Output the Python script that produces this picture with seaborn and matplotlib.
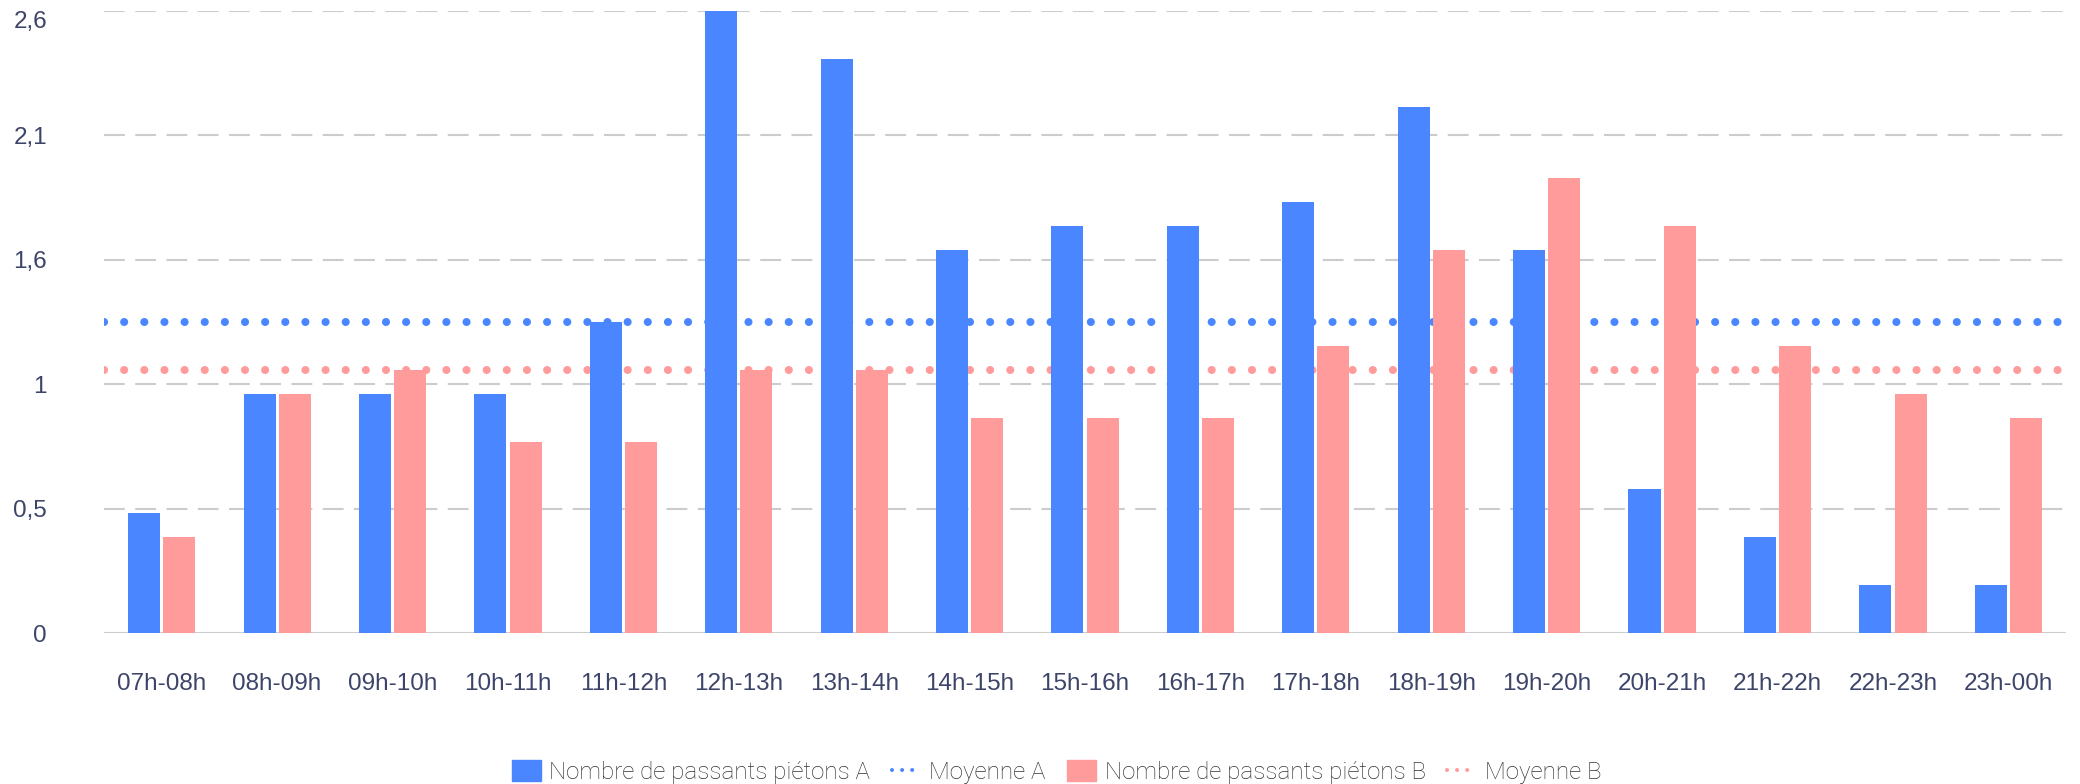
import pandas as pd
import matplotlib
matplotlib.use('Agg')
import matplotlib.pyplot as plt
from matplotlib.lines import Line2D
from matplotlib.patches import Patch
import seaborn as sns

# Tranches horaires et valeurs
tranches = ['07h-08h', '08h-09h', '09h-10h', '10h-11h', '11h-12h', '12h-13h',
            '13h-14h', '14h-15h', '15h-16h', '16h-17h', '17h-18h', '18h-19h',
            '19h-20h', '20h-21h', '21h-22h', '22h-23h', '23h-00h']
passants_a = [0.5, 1.0, 1.0, 1.0, 1.3, 2.6, 2.4, 1.6, 1.7, 1.7, 1.8, 2.2,
              1.6, 0.6, 0.4, 0.2, 0.2]
passants_b = [0.4, 1.0, 1.1, 0.8, 0.8, 1.1, 1.1, 0.9, 0.9, 0.9, 1.2, 1.6,
              1.9, 1.7, 1.2, 1.0, 0.9]
moyenne_a = 1.3
moyenne_b = 1.1

label_a = 'Nombre de passants piétons A'
label_b = 'Nombre de passants piétons B'
y_ticks = [0, 0.52, 1.04, 1.56, 2.08, 2.6]
y_labels = ['0', '0,5', '1', '1,6', '2,1', '2,6']

BLUE = '#4a86ff'
PINK = '#ff9b9b'
TEXT = '#3d4469'
GRID = '#cccccc'

df = pd.DataFrame({'tranche': tranches, label_a: passants_a, label_b: passants_b})
long = df.melt(id_vars='tranche', var_name='serie', value_name='valeur')

sns.set_theme(style='white')
plt.rcParams['font.family'] = ['Roboto', 'DejaVu Sans']

fig = plt.figure(figsize=(20.8, 7.84), dpi=100)
ax = fig.add_axes([0.05, 0.1926, 0.9433, 0.7934])

# grille
for t in y_ticks[1:]:
    ax.axhline(t, color=GRID, lw=1.5, dashes=(10, 5), zorder=0)
ax.axhline(0, color=GRID, lw=1.5, zorder=0)

# moyennes (derriere les barres)
ax.axhline(moyenne_a, color=BLUE, lw=5.8, dashes=(0.01, 2.49),
           dash_capstyle='round', zorder=1)
ax.axhline(moyenne_b, color=PINK, lw=5.8, dashes=(0.01, 2.49),
           dash_capstyle='round', zorder=1)

sns.barplot(data=long, x='tranche', y='valeur', hue='serie',
            palette=[BLUE, PINK], width=0.61, gap=0.09, saturation=1,
            linewidth=0, legend=False, ax=ax, zorder=2)

ax.set_xlim(-0.5, len(tranches) - 0.5)
ax.set_ylim(0, 2.6)
ax.set_yticks(y_ticks)
ax.set_yticklabels(y_labels)
ax.set_xlabel('')
ax.set_ylabel('')
ax.tick_params(axis='x', length=0, pad=29, labelcolor=TEXT)
ax.tick_params(axis='y', length=0, pad=41, labelcolor=TEXT)
for lab in ax.get_xticklabels() + ax.get_yticklabels():
    lab.set_fontfamily(['Liberation Sans', 'DejaVu Sans'])
    lab.set_fontsize(17.5)
ax.get_yticklabels()[-1].set_va('top')
for s in ax.spines.values():
    s.set_visible(False)

handles = [
    Patch(color=BLUE, label=label_a),
    Line2D([0], [0], color=BLUE, lw=2.9, dashes=(0.01, 2.49), dash_capstyle='round', label='Moyenne A'),
    Patch(color=PINK, label=label_b),
    Line2D([0], [0], color=PINK, lw=2.9, dashes=(0.01, 2.49), dash_capstyle='round', label='Moyenne B'),
]
leg = fig.legend(handles=handles, loc='center', bbox_to_anchor=(0.508, 0.0153),
                 ncol=4, frameon=False, prop={'family': 'Roboto', 'weight': 'light', 'size': 17.4},
                 labelcolor='#333333', handlelength=1.2, handleheight=0.93,
                 handletextpad=0.34, columnspacing=0.9, borderpad=0)

fig.savefig('out.png', dpi=100, facecolor='white')
